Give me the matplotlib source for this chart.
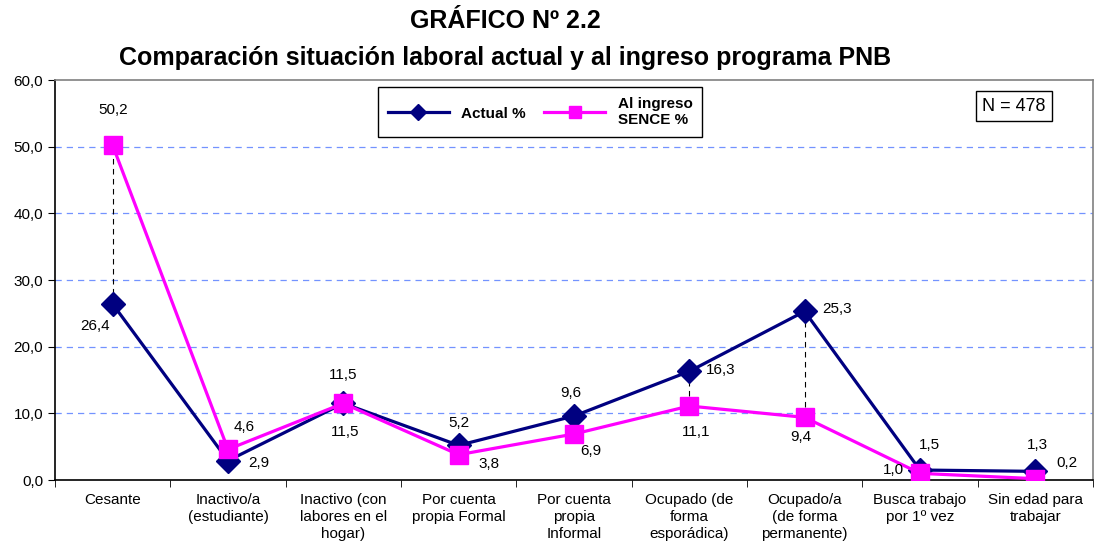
import matplotlib.pyplot as plt
import numpy as np
from matplotlib.lines import Line2D

plt.rcParams['font.family'] = ['Liberation Sans', 'DejaVu Sans']

categorias = ['Cesante', 'Inactivo/a\n(estudiante)', 'Inactivo (con\nlabores en el\nhogar)',
              'Por cuenta\npropia Formal', 'Por cuenta\npropia\nInformal',
              'Ocupado (de\nforma\nesporádica)', 'Ocupado/a\n(de forma\npermanente)',
              'Busca trabajo\npor 1º vez', 'Sin edad para\ntrabajar']
actual = [26.4, 2.9, 11.5, 5.2, 9.6, 16.3, 25.3, 1.5, 1.3]
ingreso = [50.2, 4.6, 11.5, 3.8, 6.9, 11.1, 9.4, 1.0, 0.2]

# label offsets in pixels (dx, dy)
off_actual = [(-18, -22), (31, -2), (2, -29), (0, 22), (-3, 23), (31, 1), (32, 2), (9, 25), (2, 26)]
off_ingreso = [(0, 35), (16, 22), (0, 28), (30, -9), (17, -17), (7, -26), (-4, -20), (-27, 3), (32, 16)]

fig = plt.figure(figsize=(11, 5.55), dpi=100)
ax = fig.add_axes([0.05, 0.1351, 0.9436, 0.7207])

x = np.arange(len(categorias))
lo = np.minimum(actual, ingreso)
hi = np.maximum(actual, ingreso)
ax.vlines(x, lo, hi, colors='black', linestyles=(0, (5, 4)), linewidth=0.8, zorder=2)

ax.plot(x, actual, color='#000080', lw=2.3, marker='D', markersize=12.5, zorder=3)
ax.plot(x, ingreso, color='#FF00FF', lw=2.3, marker='s', markersize=13, zorder=4)

def fmt(v):
    return f'{v:.1f}'.replace('.', ',')

for i in range(len(x)):
    ax.annotate(fmt(actual[i]), (x[i], actual[i]), xytext=off_actual[i], textcoords='offset pixels',
                ha='center', va='center', fontsize=11, zorder=5)
    ax.annotate(fmt(ingreso[i]), (x[i], ingreso[i]), xytext=off_ingreso[i], textcoords='offset pixels',
                ha='center', va='center', fontsize=11, zorder=5)

ax.set_xlim(-0.5, len(x) - 0.5)
ax.set_ylim(0, 60)
ax.set_yticks(np.arange(0, 61, 10))
ax.set_yticklabels([fmt(v) for v in np.arange(0, 61, 10)], fontsize=11)
ax.set_xticks(x)
ax.set_xticklabels(categorias, fontsize=11, va='top', linespacing=1.3)
ax.set_xticks(np.arange(-0.5, len(x), 1), minor=True)
ax.tick_params(axis='x', which='major', length=0, pad=9)
ax.tick_params(axis='x', which='minor', length=5, direction='out')
ax.tick_params(axis='y', length=5, direction='out')

for v in range(10, 60, 10):
    ax.axhline(v, color='#7393FF', lw=0.9, linestyle=(0, (5, 4)), zorder=1)

ax.spines['left'].set_color('black')
ax.spines['bottom'].set_color('black')
ax.spines['top'].set_color('#808080')
ax.spines['right'].set_color('#808080')
for s in ax.spines.values():
    s.set_linewidth(1.2)

handles = [Line2D([], [], color='#000080', lw=2.3, marker='D', markersize=8),
           Line2D([], [], color='#FF00FF', lw=2.3, marker='s', markersize=9)]
leg = fig.legend(handles, ['Actual %', 'Al ingreso\nSENCE %'], ncol=2, loc='upper left',
                 bbox_to_anchor=(378 / 1100, 1 - 87 / 555), borderaxespad=0, fancybox=False,
                 edgecolor='black', prop={'weight': 'bold', 'size': 11}, handlelength=4.0,
                 columnspacing=1.2, borderpad=0.65, framealpha=1)
leg.get_frame().set_linewidth(1.0)

ax.text(0.924, 0.935, 'N = 478', transform=ax.transAxes, ha='center', va='center', fontsize=13,
        bbox=dict(boxstyle='square,pad=0.35', facecolor='white', edgecolor='black', lw=1))

fig.text(0.459, 0.962, 'GRÁFICO Nº 2.2', ha='center', va='center', fontsize=18, weight='bold')
fig.text(0.459, 0.895, 'Comparación situación laboral actual y al ingreso programa PNB',
         ha='center', va='center', fontsize=18, weight='bold')

fig.savefig('out.png', dpi=100)
